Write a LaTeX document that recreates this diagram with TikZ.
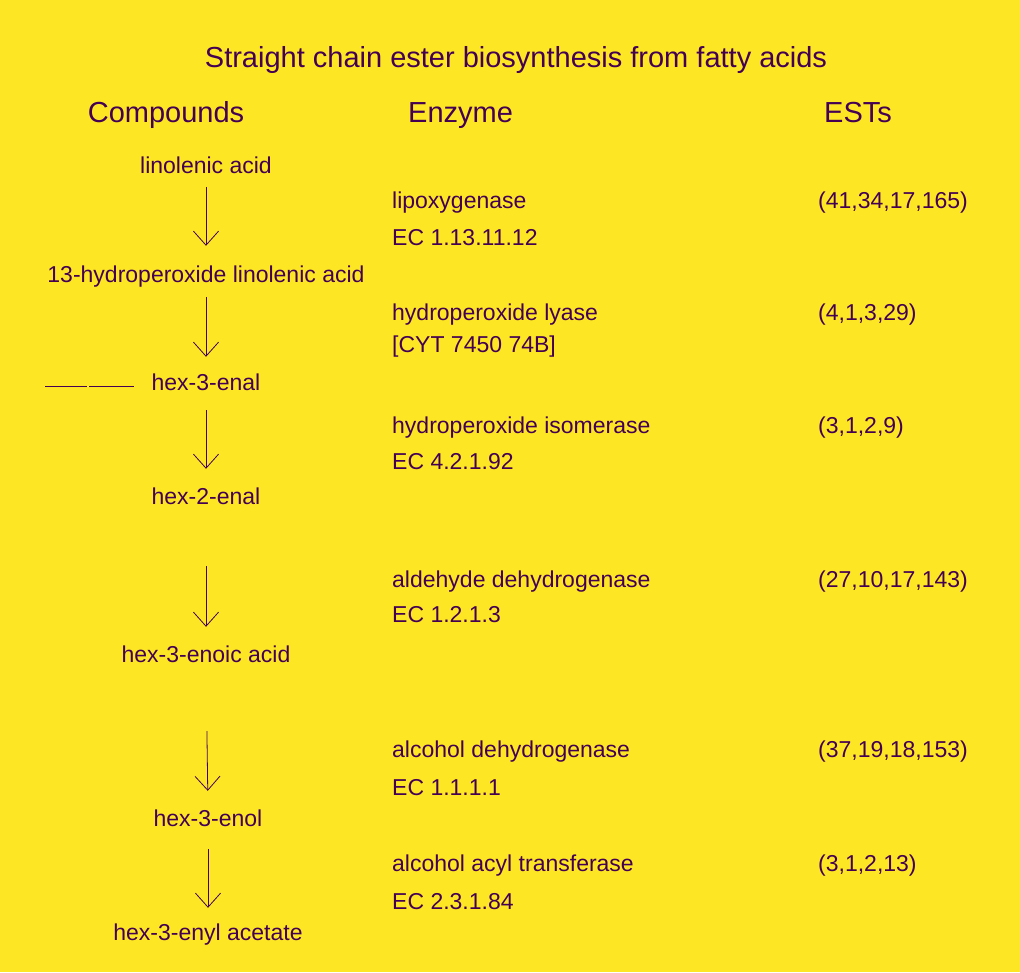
\documentclass[tikz,border=0pt]{standalone}
\usepackage{fontspec}
\setmainfont{Liberation Sans}
\usepackage{pdfrender}
\usetikzlibrary{arrows.meta}
\definecolor{bgyellow}{HTML}{FDE725}
\definecolor{inkpurple}{HTML}{440154}
\newcommand{\outl}[1]{\textpdfrender{TextRenderingMode=Stroke,LineWidth=0.45pt}{#1}}
\begin{document}
\begin{tikzpicture}[x=1pt,y=-1pt,
    heading/.style ={anchor=base, inner sep=0pt, text=inkpurple, font=\fontsize{29}{34}\selectfont},
    compound/.style ={anchor=base, inner sep=0pt, text height=17pt, text depth=5pt, text=inkpurple, font=\fontsize{23}{27}\selectfont},
    enzyme/.style ={anchor=base west, inner sep=0pt, text=inkpurple, font=\fontsize{23}{27}\selectfont},
    reaction/.style ={draw=inkpurple, line width=0.8pt, -{Straight Barb[length=14pt,width=25pt,line width=0.8pt]}}]
   \useasboundingbox (0,0) rectangle (1020,972);
   \fill[bgyellow] (0,0) rectangle (1020,972);

   % title and column heads
   \node[heading] (title) at (516,67) {\outl{Straight chain ester biosynthesis from fatty acids}};
   \node[heading] (hcomp) at (166,122) {\outl{Compounds}};
   \node[heading,anchor=base west] (henz) at (408,122) {\outl{Enzyme}};
   \node[heading,anchor=base west] (hest) at (824,122) {\outl{ESTs}};

   % compounds
   \node[compound] (linolenic) at (206,173) {\outl{linolenic acid}};
   \node[compound] (hydroperox) at (206,282) {\outl{13-hydroperoxide linolenic acid}};
   \node[compound] (hexthreenal) at (206,390) {\outl{hex-3-enal}};
   \node[compound] (hextwonal) at (206,504) {\outl{hex-2-enal}};
   \node[compound] (hexoic) at (206,662) {\outl{hex-3-enoic acid}};
   \node[compound] (hexenol) at (208,826) {\outl{hex-3-enol}};
   \node[compound] (hexacetate) at (208,940) {\outl{hex-3-enyl acetate}};

   % enzymes
   \node[enzyme] (lox) at (392,208) {\outl{lipoxygenase}};
   \node[enzyme] (loxec) at (392,245) {\outl{EC 1.13.11.12}};
   \node[enzyme] (hpl) at (392,320) {\outl{hydroperoxide lyase}};
   \node[enzyme] (hplec) at (392,352) {\outl{[CYT 7450 74B]}};
   \node[enzyme] (hpi) at (392,433) {\outl{hydroperoxide isomerase}};
   \node[enzyme] (hpiec) at (392,469) {\outl{EC 4.2.1.92}};
   \node[enzyme] (aldh) at (392,587) {\outl{aldehyde dehydrogenase}};
   \node[enzyme] (aldhec) at (392,622) {\outl{EC 1.2.1.3}};
   \node[enzyme] (adh) at (392,757) {\outl{alcohol dehydrogenase}};
   \node[enzyme] (adhec) at (392,795) {\outl{EC 1.1.1.1}};
   \node[enzyme] (aat) at (392,871) {\outl{alcohol acyl transferase}};
   \node[enzyme] (aatec) at (392,909) {\outl{EC 2.3.1.84}};

   % EST counts
   \node[enzyme] (loxest) at (818,208) {\outl{(41,34,17,165)}};
   \node[enzyme] (hplest) at (818,320) {\outl{(4,1,3,29)}};
   \node[enzyme] (hpiest) at (818,433) {\outl{(3,1,2,9)}};
   \node[enzyme] (aldhest) at (818,587) {\outl{(27,10,17,143)}};
   \node[enzyme] (adhest) at (818,757) {\outl{(37,19,18,153)}};
   \node[enzyme] (aatest) at (818,871) {\outl{(3,1,2,13)}};

   \draw[reaction,shorten <=9pt,shorten >=19pt] (linolenic.south) to (hydroperox.north);
   \draw[reaction,shorten <=10pt,shorten >=16pt] (hydroperox.south) to (hexthreenal.north);
   \draw[reaction,shorten <=15pt,shorten >=18pt] (hexthreenal.south) to (hextwonal.north);
   \draw[reaction,shorten <=57pt,shorten >=18pt] (hextwonal.south) to (hexoic.north);
   \draw[reaction,shorten <=64pt,shorten >=18pt] (hexoic.south) to (hexenol.north);
   \draw[reaction,shorten <=18pt,shorten >=15pt] (hexenol.south) to (hexacetate.north);

   \draw[inkpurple,line width=0.8pt] (45,386) -- (87,386) (89,386) -- (134,386);
\end{tikzpicture}
\end{document}
